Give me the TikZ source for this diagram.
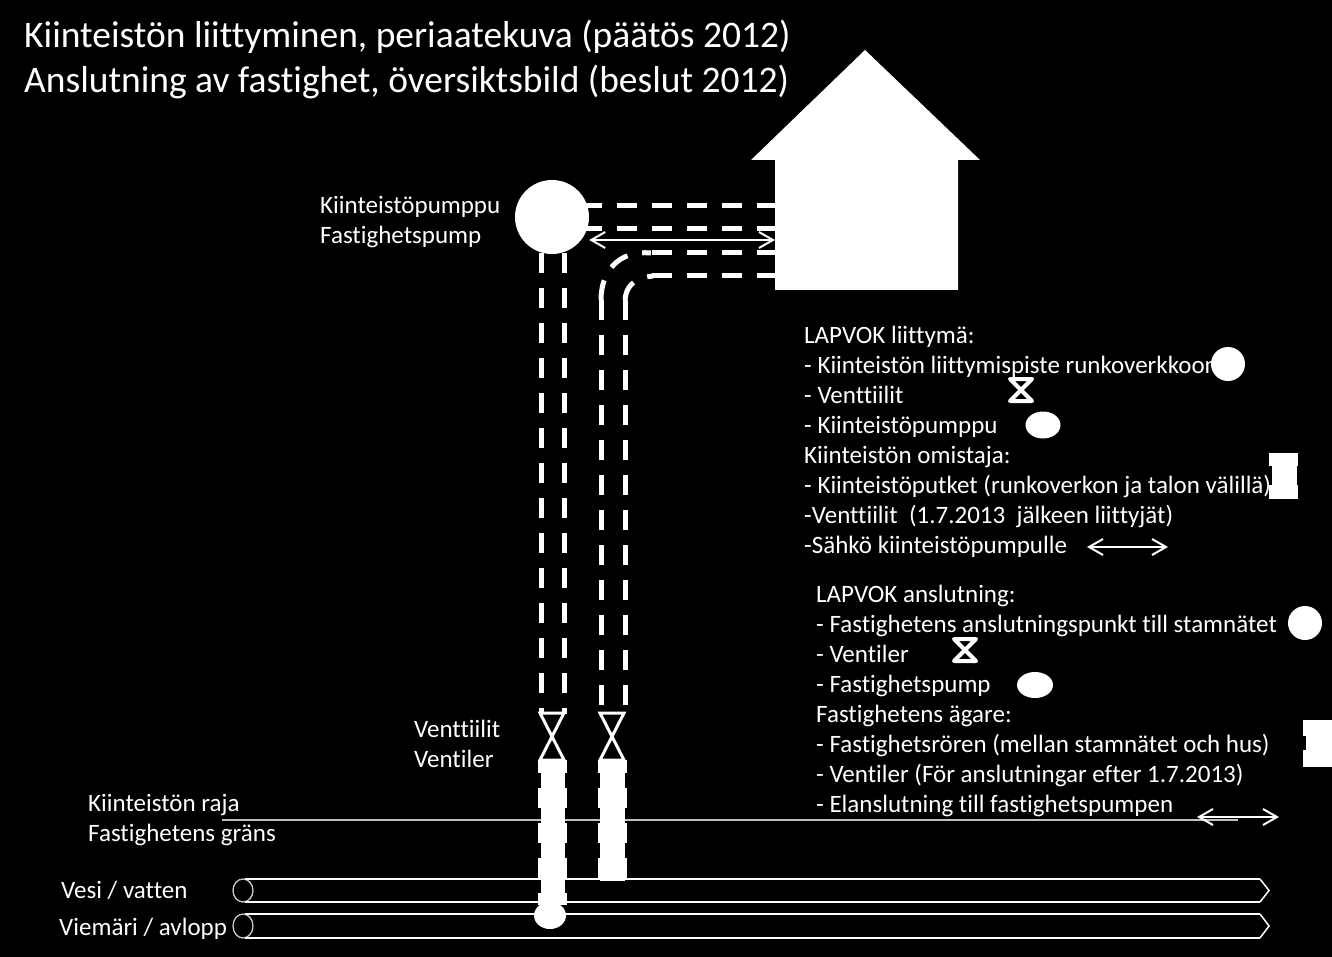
\documentclass[tikz,border=0pt]{standalone}
\usepackage{fontspec}
\setmainfont[Ligatures=NoCommon]{Carlito}
\usetikzlibrary{arrows.meta,positioning,shapes.geometric}
\tikzset{
    pipe/.style={white, line width=5pt, dash pattern=on 20pt off 15pt},
    fatpipe/.style={white, line width=29pt, dash pattern=on 13pt off 15pt on 20pt off 15pt on 20pt off 15pt on 20pt off 15pt on 20pt off 15pt},
    rail/.style={white, line width=2.5pt},
    railend/.style={draw=white!80!black, line width=1.3pt},
    elec/.style={white, line width=2pt, {Straight Barb[length=14pt,width=16pt,line width=2pt]}-{Straight Barb[length=14pt,width=16pt,line width=2pt]}},
    ball/.style={circle, fill=white, inner sep=0pt},
    oval/.style={ellipse, fill=white, inner sep=0pt},
    body/.style={white, anchor=north west, align=left, inner sep=0pt, font=\fontsize{25}{30}\selectfont},
    title/.style={white, anchor=north west, align=left, inner sep=0pt, font=\fontsize{37.5}{45}\selectfont}
}
\newcommand{\hourglass}[2]{% centre, half size
    \draw[white, line width=4pt, line join=round] ([shift={(-#2,-#2)}]#1) -- ([shift={(#2,-#2)}]#1) -- ([shift={(-#2,#2)}]#1) -- ([shift={(#2,#2)}]#1) -- cycle;
}
\begin{document}
\begin{tikzpicture}[x=1pt, y=-1pt]
    \fill[black] (0,0) rectangle (1332,957);
    \useasboundingbox (0,0) rectangle (1332,957);

    % Title
    \node[title] (titleText) at (24,20) {Kiinteistön liittyminen, periaatekuva (päätös 2012)\\Anslutning av fastighet, översiktsbild (beslut 2012)};

    % Property border
    \coordinate (borderL) at (222,820);
    \coordinate (borderR) at (1238,820);
    \draw[white!75!black, line width=1.5pt] (borderL) -- (borderR);

    % Mains
    \foreach \top/\bot/\rad in {879/902/11.5, 914/938/12} {
        \draw[railend] (243,{(\top+\bot)/2}) ellipse (10 and \rad);
        \draw[rail] (245,\top) -- (1260,\top);
        \draw[rail] (245,\bot) -- (1260,\bot);
        \draw[rail, line width=1.5pt] (1260,\top) -- (1269,{(\top+\bot)/2}) -- (1260,\bot);
    }

    % Pipes from the pump to the valves
    \foreach \x in {541,564} {
        \draw[pipe] (\x,253) -- (\x,714);
    }
    \foreach \x in {601,625} {
        \draw[pipe] (\x,300) -- (\x,706);
    }
    \draw[pipe] (601,300) .. controls (601,272) and (618,250) .. (651,253);
    \draw[pipe] (625,300) .. controls (626,288) and (632,278) .. (653,276);

    % House pipes
    \foreach \y/\start in {206/582, 229/582, 253/652, 276/652} {
        \draw[pipe] (\start,\y) -- (775,\y);
    }

    % Pump and house
    \node[ball, minimum size=74pt] (pump) at (552,217) {};
    \fill[white] (865,50) -- (980,160) -- (958,160) -- (958,290) -- (775,290) -- (775,160) -- (751,160) -- cycle;
    \coordinate (house) at (775,240);
    \draw[elec] (pump.east |- house) -- (house);

    % Valves
    \foreach \x in {552,612} {
        \draw[white, line width=3pt] (\x-12,713) -- (\x+12,713) -- (\x-12,760) -- (\x+12,760) -- cycle;
    }

    % Buried parts of the pipes
    \fill[white] (540.5,760) rectangle (564.5,905);
    \fill[white] (600,760) rectangle (624.5,881);
    \draw[fatpipe] (552.5,760) -- (552.5,905);
    \draw[fatpipe] (612,760) -- (612,882);
    \node[oval, minimum width=32pt, minimum height=27pt] (drain) at (550,915.5) {};

    % Labels
    \node[body] (pumpText) at (320,196) {Kiinteistöpumppu\\Fastighetspump};
    \node[body] (valveText) at (414,720) {Venttiilit\\Ventiler};
    \node[body] (borderText) at (88,794) {Kiinteistön raja\\Fastighetens gräns};
    \node[body] (waterText) at (61,881) {Vesi / vatten};
    \node[body] (sewerText) at (59,918) {Viemäri / avlopp};

    % Legend, Finnish
    \node[body] (legendFi) at (804,326) {LAPVOK liittymä:\\
        - Kiinteistön liittymispiste runkoverkkoon\\
        - Venttiilit\\
        - Kiinteistöpumppu\\
        Kiinteistön omistaja:\\
        - Kiinteistöputket (runkoverkon ja talon välillä)\\
        -Venttiilit\ \ (1.7.2013\ \ jälkeen liittyjät)\\
        -Sähkö kiinteistöpumpulle};
    \node[ball, minimum size=34pt] (pointFi) at (1228,364) {};
    \hourglass{1021,390}{11pt}
    \node[oval, minimum width=35pt, minimum height=27pt] (pumpFi) at (1043,425) {};
    \fill[white] (1269,453) rectangle (1298,466);
    \fill[white] (1272,453) rectangle (1297,499);
    \fill[white] (1269,485) rectangle (1298,499);
    \coordinate (elecFiL) at (1087,547);
    \coordinate (elecFiR) at (1168,547);
    \draw[elec] (elecFiL) -- (elecFiR);

    % Legend, Swedish
    \node[body] (legendSv) at (816,585) {LAPVOK anslutning:\\
        - Fastighetens anslutningspunkt till stamnätet\\
        - Ventiler\\
        - Fastighetspump\\
        Fastighetens ägare:\\
        - Fastighetsrören (mellan stamnätet och hus)\\
        - Ventiler (För anslutningar efter 1.7.2013)\\
        - Elanslutning till fastighetspumpen};
    \node[ball, minimum size=34pt] (pointSv) at (1305,623) {};
    \hourglass{965,650}{11pt}
    \node[oval, minimum width=36pt, minimum height=26pt] (pumpSv) at (1035,685) {};
    \fill[white] (1303,720) rectangle (1332,736);
    \fill[white] (1306,720) rectangle (1332,767);
    \fill[white] (1303,750) rectangle (1332,767);
    \coordinate (elecSvL) at (1197,817);
    \coordinate (elecSvR) at (1279,817);
    \draw[elec] (elecSvL) -- (elecSvR);
\end{tikzpicture}
\end{document}
